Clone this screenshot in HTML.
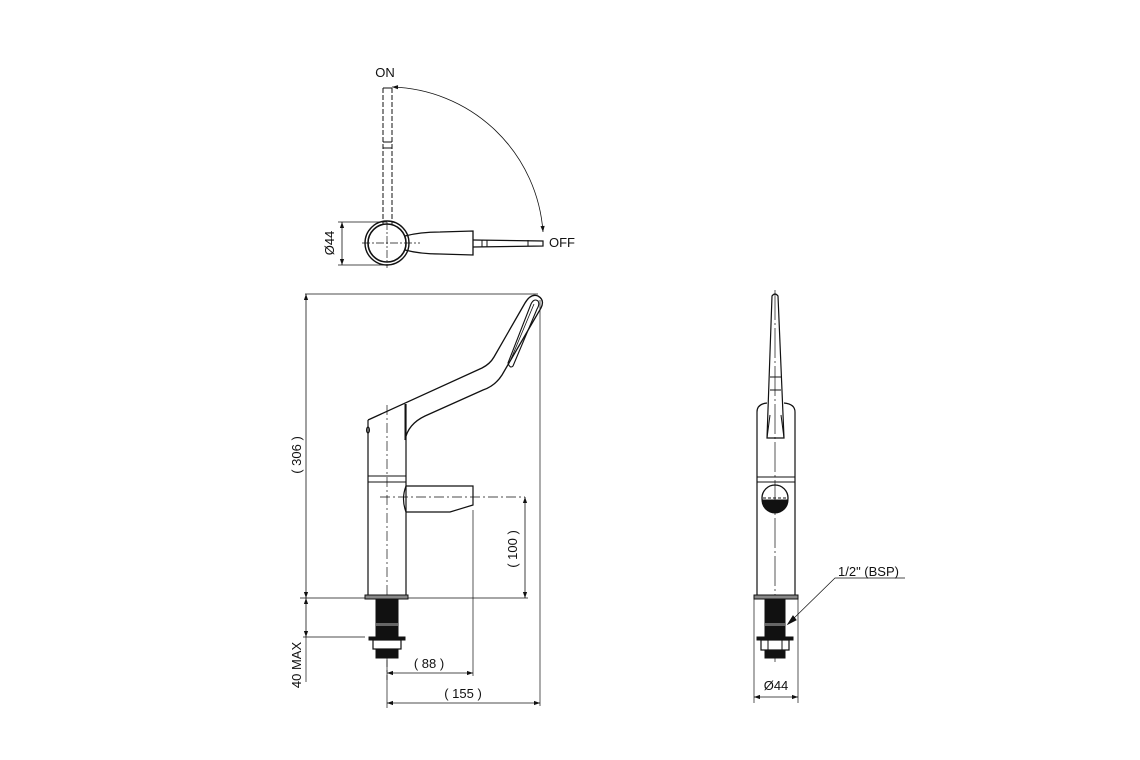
<!DOCTYPE html>
<html><head><meta charset="utf-8"><style>
html,body{margin:0;padding:0;background:#fff}
svg{display:block}
text{font-family:"Liberation Sans",sans-serif;font-size:13px;fill:#111}
</style></head><body>
<svg width="1140" height="760" viewBox="0 0 1140 760" xmlns="http://www.w3.org/2000/svg">
<defs>
<marker id="a" viewBox="0 0 10 10" refX="10" refY="5" markerWidth="10" markerHeight="6" orient="auto-start-reverse" markerUnits="userSpaceOnUse"><path d="M0,1.5 L10,5 L0,8.5z" fill="#111"/></marker>
</defs>
<g fill="none" stroke="#111" stroke-width="1">
<!-- TOP VIEW -->
<line x1="383" y1="88" x2="383" y2="224" stroke-dasharray="5,2"/>
<line x1="392" y1="88" x2="392" y2="224" stroke-dasharray="5,2"/>
<line x1="383" y1="88" x2="392" y2="88"/>
<line x1="383" y1="142" x2="392" y2="142"/><line x1="383" y1="148" x2="392" y2="148"/>
<circle cx="387" cy="243" r="22" stroke-width="1.4"/>
<circle cx="387" cy="243" r="19" stroke-width="1.6"/>
<path d="M405,236 Q420,232 440,232 L473,231 L473,255 L440,254 Q420,254 405,250" stroke-width="1.3"/>
<path d="M473,240 L543,241 L543,246 L473,247" stroke-width="1.2"/>
<line x1="482" y1="240" x2="482" y2="247"/><line x1="487" y1="240" x2="487" y2="247"/><line x1="528" y1="240" x2="528" y2="246"/>
<line x1="362" y1="243" x2="420" y2="243" stroke-dasharray="8,2,2,2" stroke-width="0.7"/>
<line x1="387" y1="222" x2="387" y2="268" stroke-dasharray="8,2,2,2" stroke-width="0.7"/>
<path d="M392,87 A156,156 0 0 1 543,232" stroke-width="0.8" marker-start="url(#a)" marker-end="url(#a)"/>
<line x1="338" y1="222" x2="387" y2="222" stroke-width="0.7"/>
<line x1="338" y1="265" x2="387" y2="265" stroke-width="0.7"/>
<line x1="342" y1="222" x2="342" y2="265" stroke-width="0.8" marker-start="url(#a)" marker-end="url(#a)"/>

<!-- SIDE VIEW -->
<line x1="305" y1="294" x2="538" y2="294" stroke-width="0.7"/>
<line x1="306" y1="294" x2="306" y2="598" stroke-width="0.8" marker-start="url(#a)" marker-end="url(#a)"/>
<line x1="540" y1="300" x2="540" y2="706" stroke-width="0.7"/>
<path d="M368,420 L482,368 Q490,364 494,357 L525,303 Q531,293 538,296 Q545,300 541,308 L502,375 Q495,386 483,390 L425,416 Q408,424 405,440" stroke-width="1.3"/>
<path d="M508,363 L531,304 Q534,298 538,301 Q540,304 537,309 L513,366 Q510,369 508,363z" stroke-width="1.1"/>
<path d="M511,359 L534,304" stroke-width="0.8"/>
<line x1="368" y1="420" x2="368" y2="595" stroke-width="1.2"/>
<line x1="406" y1="404" x2="406" y2="595" stroke-width="1.2"/>
<line x1="405" y1="404" x2="405" y2="440"/>
<line x1="368" y1="476" x2="406" y2="476"/><line x1="368" y1="482" x2="406" y2="482"/>
<path d="M406,486 L473,486 L473,505 L450,512 L406,512 Q401,499 406,486" stroke-width="1.2"/>
<ellipse cx="368" cy="430" rx="1.5" ry="3"/>
<line x1="387" y1="405" x2="387" y2="680" stroke-dasharray="10,3,2,3" stroke-width="0.7"/>
<line x1="380" y1="497" x2="525" y2="497" stroke-dasharray="10,3,2,3" stroke-width="0.7"/>
<line x1="525" y1="497" x2="525" y2="598" stroke-width="0.8" marker-start="url(#a)" marker-end="url(#a)"/>
<line x1="300" y1="598" x2="528" y2="598" stroke-width="0.7"/>
<rect x="365" y="595" width="43" height="4" fill="#888" stroke-width="1"/>
<rect x="376" y="599" width="22" height="38" fill="#111"/>
<rect x="376" y="623" width="22" height="3" fill="#666" stroke="none"/>
<rect x="369" y="637" width="36" height="3" fill="#111"/>
<rect x="373" y="640" width="28" height="9" fill="#fff" stroke-width="1.2"/>
<rect x="376" y="649" width="22" height="9" fill="#111"/>
<line x1="306" y1="598" x2="306" y2="637" stroke-width="0.8" marker-start="url(#a)" marker-end="url(#a)"/>
<line x1="306" y1="637" x2="306" y2="682" stroke-width="0.7"/>
<line x1="303" y1="637" x2="365" y2="637" stroke-width="0.7"/>
<line x1="473" y1="510" x2="473" y2="676" stroke-width="0.7"/>
<line x1="387" y1="660" x2="387" y2="708" stroke-width="0.7"/>
<line x1="387" y1="673" x2="473" y2="673" stroke-width="0.8" marker-start="url(#a)" marker-end="url(#a)"/>
<line x1="387" y1="703" x2="540" y2="703" stroke-width="0.8" marker-start="url(#a)" marker-end="url(#a)"/>

<!-- FRONT VIEW -->
<line x1="775" y1="290" x2="775" y2="665" stroke-dasharray="30,3,2,3" stroke-width="0.7"/>
<path d="M772,296 Q775,292 778,296 L784,438 L767,438 Z" stroke-width="1.2"/>
<line x1="770" y1="377" x2="781" y2="377"/><line x1="770" y1="390" x2="781" y2="390"/>
<path d="M767,438 L770,415 M784,438 L781,415"/>
<path d="M757,595 L757,412 Q757,404 767,403 M795,595 L795,412 Q795,404 784,403" stroke-width="1.2"/>
<line x1="757" y1="477" x2="795" y2="477"/><line x1="757" y1="482" x2="795" y2="482"/>
<circle cx="775" cy="498" r="13" stroke-width="1.3"/>
<path d="M762,500 L788,500 A13,13 0 0 1 762,500z" fill="#111"/>
<line x1="763" y1="498" x2="787" y2="498" stroke-dasharray="3,2"/>
<rect x="754" y="595" width="44" height="4" fill="#888"/>
<rect x="765" y="599" width="20" height="38" fill="#111"/>
<rect x="765" y="623" width="20" height="3" fill="#666" stroke="none"/>
<rect x="757" y="637" width="36" height="3" fill="#111"/>
<rect x="761" y="640" width="28" height="10" fill="#fff" stroke-width="1.2"/>
<line x1="768" y1="640" x2="768" y2="650"/><line x1="782" y1="640" x2="782" y2="650"/>
<rect x="765" y="650" width="20" height="8" fill="#111"/>
<line x1="754" y1="599" x2="754" y2="703" stroke-width="0.7"/>
<line x1="798" y1="599" x2="798" y2="703" stroke-width="0.7"/>
<line x1="754" y1="697" x2="798" y2="697" stroke-width="0.8" marker-start="url(#a)" marker-end="url(#a)"/>
<polyline points="905,578 835,578 790,622" stroke-width="0.7"/>
<path d="M788,624 L793,616 L796,620z" fill="#111"/>
</g>
<text x="385" y="77" text-anchor="middle">ON</text>
<text x="549" y="247">OFF</text>
<text transform="translate(334,243) rotate(-90)" text-anchor="middle">Ø44</text>
<text transform="translate(301,455) rotate(-90)" text-anchor="middle">( 306 )</text>
<text transform="translate(517,549) rotate(-90)" text-anchor="middle">( 100 )</text>
<text transform="translate(301,665) rotate(-90)" text-anchor="middle">40 MAX</text>
<text x="429" y="668" text-anchor="middle">( 88 )</text>
<text x="463" y="698" text-anchor="middle">( 155 )</text>
<text x="776" y="690" text-anchor="middle">Ø44</text>
<text x="838" y="576">1/2" (BSP)</text>
</svg>
</body></html>
